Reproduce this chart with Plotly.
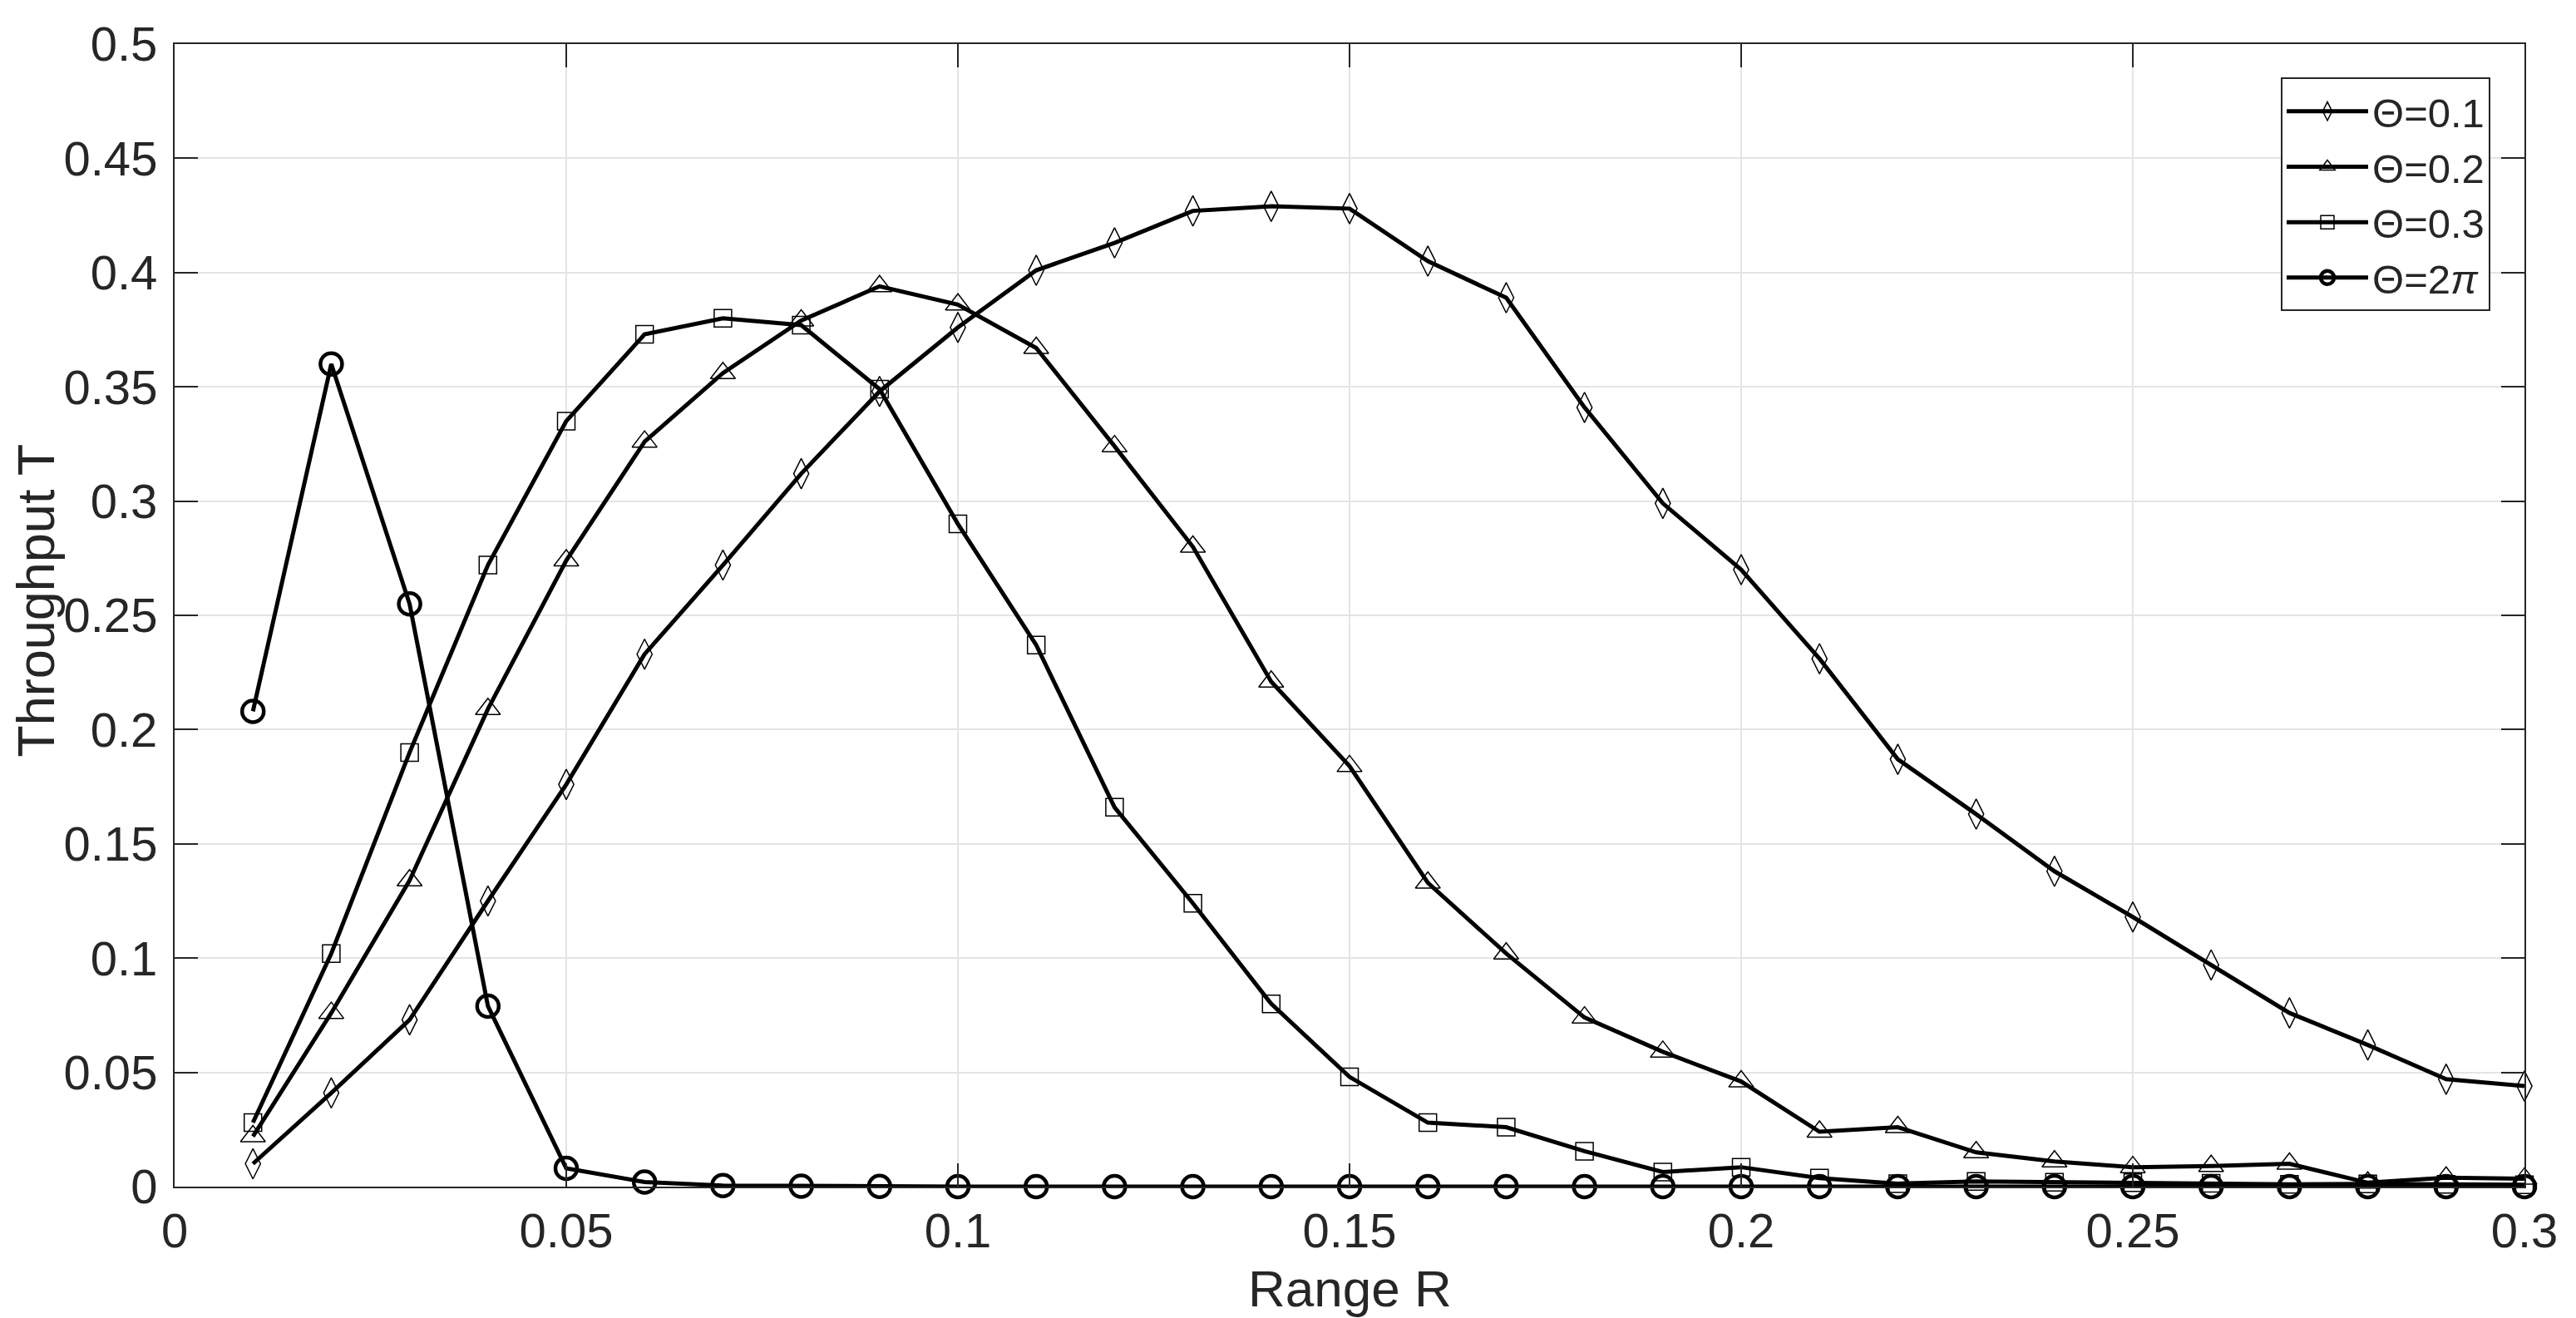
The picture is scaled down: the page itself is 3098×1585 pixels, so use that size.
import plotly.graph_objects as go

# range R (x) values shared by every curve
range_r = [0.01, 0.02, 0.03, 0.04, 0.05, 0.06, 0.07, 0.08, 0.09, 0.10,
           0.11, 0.12, 0.13, 0.14, 0.15, 0.16, 0.17, 0.18, 0.19, 0.20,
           0.21, 0.22, 0.23, 0.24, 0.25, 0.26, 0.27, 0.28, 0.29, 0.30]

# throughput T
theta_01 = [0.010, 0.041, 0.073, 0.125, 0.176, 0.233, 0.272, 0.312, 0.348, 0.376,
            0.401, 0.413, 0.427, 0.429, 0.428, 0.405, 0.389, 0.341, 0.299, 0.270,
            0.231, 0.187, 0.163, 0.138, 0.118, 0.097, 0.076, 0.062, 0.047, 0.044]
theta_02 = [0.022, 0.076, 0.134, 0.209, 0.274, 0.326, 0.356, 0.379, 0.394, 0.386,
            0.367, 0.324, 0.280, 0.221, 0.184, 0.133, 0.102, 0.074, 0.059, 0.046,
            0.024, 0.026, 0.015, 0.011, 0.0085, 0.009, 0.010, 0.0017, 0.0039, 0.0035]
theta_03 = [0.028, 0.102, 0.190, 0.272, 0.335, 0.373, 0.380, 0.377, 0.349, 0.290,
            0.237, 0.166, 0.124, 0.080, 0.048, 0.028, 0.026, 0.0155, 0.0064, 0.0085,
            0.0037, 0.0013, 0.0023, 0.0019, 0.0017, 0.0015, 0.0010, 0.0012, 0.0010, 0.0008]
theta_2pi = [0.208, 0.360, 0.255, 0.079, 0.008, 0.002, 0.0005, 0.0002, 0.0001, 0.0,
             0.0, 0.0, 0.0, 0.0, 0.0, 0.0, 0.0, 0.0, 0.0, 0.0,
             0.0, 0.0, 0.0, 0.0, 0.0, 0.0, 0.0, 0.0, 0.0, 0.0]

names = ["Θ=0.1", "Θ=0.2", "Θ=0.3", "Θ=2<i>π</i>"]
series = [theta_01, theta_02, theta_03, theta_2pi]
symbols = ["diamond-tall-open", "triangle-up-open", "square-open", "circle-open"]
msizes = [26, 26, 21, 26]
mwidths = [1.5, 1.5, 1.5, 4.5]

ink = "#262626"
font = "Liberation Sans, Arial, Helvetica, sans-serif"

fig = go.Figure()
for name, y, sym, ms, mw in zip(names, series, symbols, msizes, mwidths):
    fig.add_trace(go.Scatter(
        x=range_r, y=y, name=name,
        mode="lines+markers",
        line=dict(color="black", width=5),
        marker=dict(symbol=sym, size=ms, color="black",
                    line=dict(color="black", width=mw)),
        cliponaxis=False,
    ))

axis_common = dict(
    showline=True, linecolor=ink, linewidth=2, mirror="ticks",
    ticks="inside", ticklen=28, tickwidth=2, tickcolor=ink,
    showgrid=True, gridcolor="#e4e4e4", gridwidth=2,
    zeroline=False, dtick=0.05, tick0=0,
    tickfont=dict(size=58, color=ink, family=font),
    ticklabeloverflow="allow",
)

fig.update_layout(
    width=3082, height=1577,
    margin=dict(l=202, r=54, t=24, b=158),
    plot_bgcolor="white", paper_bgcolor="white",
    font=dict(family=font, color=ink),
    xaxis=dict(range=[0, 0.3], ticklabelstandoff=1, **axis_common),
    yaxis=dict(range=[0, 0.5], ticklabelstandoff=7, **axis_common),
    legend=dict(
        x=0.9855, y=0.9706, xanchor="right", yanchor="top",
        bgcolor="white", bordercolor=ink, borderwidth=2,
        font=dict(size=49, color=ink, family=font),
        itemwidth=98, tracegroupgap=0,
    ),
    showlegend=True,
)

# axis labels
fig.add_annotation(text="Range R", xref="paper", yref="paper",
                   x=0.5, y=-0.0631, xanchor="center", yanchor="top",
                   showarrow=False, borderpad=0,
                   font=dict(size=62, color=ink, family=font))
fig.add_annotation(text="Throughput T", xref="paper", yref="paper",
                   x=-0.0592, y=0.513, xanchor="center", yanchor="middle",
                   textangle=-90, showarrow=False,
                   font=dict(size=63, color=ink, family=font))

fig.write_html("out.html")
